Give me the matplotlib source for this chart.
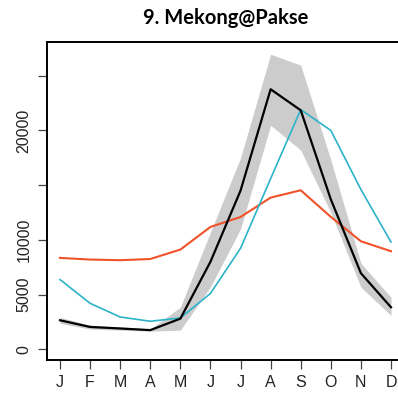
import numpy as np
import matplotlib as mpl
mpl.use("Agg")
import matplotlib.pyplot as plt

months = ["J", "F", "M", "A", "M", "J", "J", "A", "S", "O", "N", "D"]
observed = [2650, 2040, 1900, 1750, 2800, 8000, 14500, 23760, 21840, 13700, 6950, 3840]
band_lo = [2370, 1850, 1750, 1650, 1750, 5700, 11000, 20470, 18200, 12500, 5670, 3100]
band_hi = [2920, 2200, 2050, 1850, 3850, 10700, 17500, 26960, 25960, 17300, 7860, 4750]
sim_blue = [6370, 4200, 2950, 2560, 2860, 5100, 9230, 15600, 21900, 20000, 14600, 9800]
sim_red = [8350, 8200, 8140, 8250, 9110, 11180, 12090, 13860, 14530, 12100, 9870, 8960]
yticks = [0, 5000, 10000, 15000, 20000, 25000]
ylabels = ["0", "5000", "10000", "", "20000", ""]

plt.rcParams["font.family"] = ["Liberation Sans", "DejaVu Sans"]

W, H = 398, 395
fig = plt.figure(figsize=(W / 100, H / 100), dpi=100)
# right edge of the box falls just outside the picture, as in the reference
ax = fig.add_axes([47 / W, 35 / H, 357 / W, 318 / H])

x = np.arange(1, 13)
ax.fill_between(x, band_lo, band_hi, color="#cccccc", lw=0)
ax.plot(x, sim_red, color="#f0522a", lw=1.5)
ax.plot(x, sim_blue, color="#2cb3c8", lw=1.2)
ax.plot(x, observed, color="black", lw=1.6)

ax.set_xlim(0.568, 12.432)
ax.set_ylim(-980, 28080)
ax.set_xticks(x)
ax.set_xticklabels(months)
ax.set_yticks(yticks)
ax.set_yticklabels(ylabels, rotation=90, va="center")

ax.tick_params(axis="both", length=6.5, width=0.9, color="#444444",
               labelsize=11.5, labelcolor="#222222")
ax.tick_params(axis="x", pad=4.5)
ax.tick_params(axis="y", pad=4.5)
for s in ax.spines.values():
    s.set_linewidth(1.4)

fig.text((47 + 357 / 2) / W, 1 - 18 / H, "9. Mekong@Pakse", ha="center",
         va="center", fontsize=14.5, fontweight="bold", family=["Lato", "DejaVu Sans"])

fig.savefig("out.png", dpi=100)
